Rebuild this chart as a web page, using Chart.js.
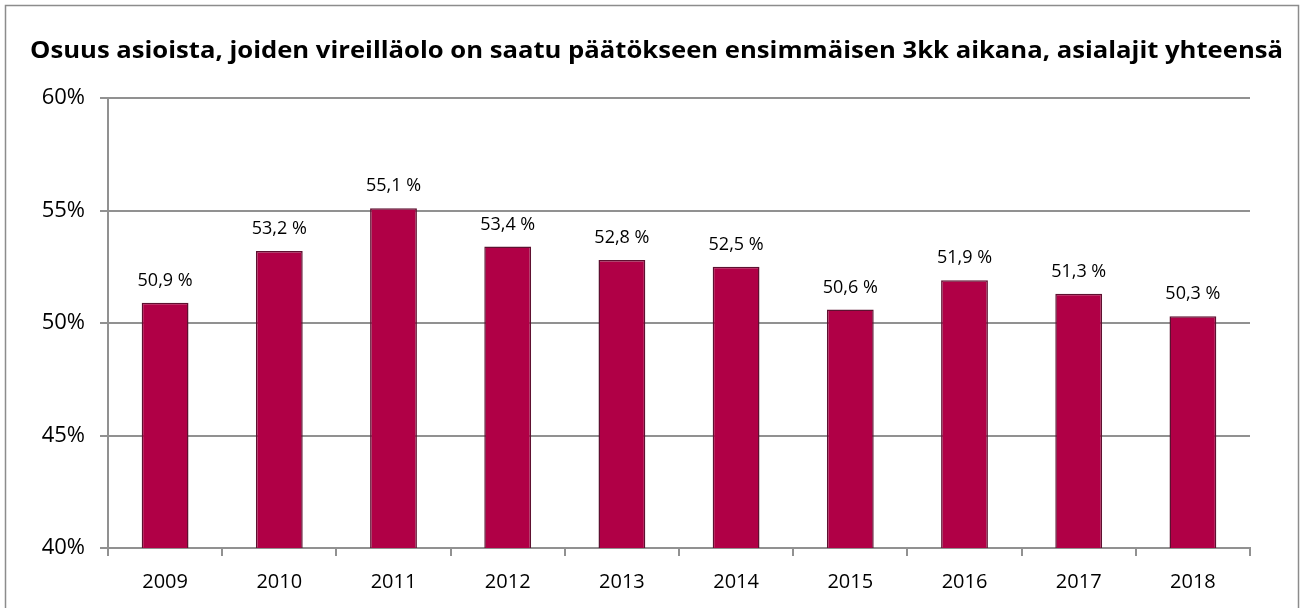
<!DOCTYPE html>
<html lang="fi">
<head>
<meta charset="utf-8">
<script src="https://cdn.jsdelivr.net/npm/chart.js@4/dist/chart.umd.min.js"></script>
<style>
  html, body { margin: 0; padding: 0; background: #ffffff; }
  #wrap { width: 1303px; height: 608px; }
  canvas { display: block; }
</style>
</head>
<body>
<div id="wrap"><canvas id="chart" width="1303" height="608"></canvas></div>
<script>
// Vuodet ja osuudet (%)
const years = ['2009', '2010', '2011', '2012', '2013', '2014', '2015', '2016', '2017', '2018'];
const shares = [50.9, 53.2, 55.1, 53.4, 52.8, 52.5, 50.6, 51.9, 51.3, 50.3];
const yTicks = [40, 45, 50, 55, 60];

const chartTitle = 'Osuus asioista, joiden vireilläolo on saatu päätökseen ensimmäisen 3kk aikana, asialajit yhteensä';
const FONT = "'Open Sans', 'Noto Sans', sans-serif";
const GRID = '#919191';
const TITLE_WIDTH = 1253;

// Kehys ja otsikko
const framePlugin = {
  id: 'frame',
  beforeDraw(chart) {
    const ctx = chart.ctx;
    ctx.save();
    ctx.fillStyle = '#ffffff';
    ctx.fillRect(0, 0, chart.width, chart.height);
    ctx.strokeStyle = '#8c8c8c';
    ctx.lineWidth = 1.5;
    ctx.strokeRect(5.5, 5.5, chart.width - 10, chart.height + 20);
    ctx.fillStyle = '#000000';
    ctx.font = "bold 23px " + FONT;
    ctx.textAlign = 'center';
    ctx.textBaseline = 'middle';
    // otsikko venytetään vaakasuunnassa koko kuvan levyiseksi
    const w = ctx.measureText(chartTitle).width;
    const sx = TITLE_WIDTH / w;
    ctx.translate(chart.width / 2 + 5, 51);
    ctx.scale(sx, 1);
    ctx.fillText(chartTitle, 0, 0);
    ctx.restore();
  }
};

// Arvotunnisteet pylväiden yläpuolelle
const valueLabels = {
  id: 'valueLabels',
  afterDatasetsDraw(chart) {
    const ctx = chart.ctx;
    const meta = chart.getDatasetMeta(0);
    ctx.save();
    ctx.fillStyle = '#000000';
    ctx.font = "18px " + FONT;
    ctx.textAlign = 'center';
    ctx.textBaseline = 'middle';
    meta.data.forEach((bar, i) => {
      const txt = shares[i].toFixed(1).replace('.', ',') + ' %';
      ctx.fillText(txt, bar.x, bar.y - 22);
    });
    ctx.restore();
  }
};

new Chart(document.getElementById('chart'), {
  type: 'bar',
  data: {
    labels: years,
    datasets: [{
      data: shares,
      backgroundColor: '#b00046',
      borderColor: '#5e1030',
      borderWidth: 1.5,
      categoryPercentage: 1,
      barPercentage: 0.41
    }]
  },
  options: {
    responsive: false,
    devicePixelRatio: 1,
    animation: false,
    layout: { padding: { left: 0, right: 53, top: 98, bottom: 0 } },
    plugins: {
      legend: { display: false },
      title: { display: false },
      tooltip: { enabled: false }
    },
    scales: {
      x: {
        grid: {
          display: true,
          drawOnChartArea: false,
          drawTicks: true,
          tickLength: 8,
          lineWidth: 2,
          color: GRID,
          offset: true
        },
        border: { display: true, color: GRID, width: 2 },
        ticks: {
          color: '#000000',
          font: { family: FONT, size: 20 },
          padding: 14,
          maxRotation: 0
        },
        afterFit(scale) { scale.height = 60; }
      },
      y: {
        min: 40,
        max: 60,
        afterBuildTicks(scale) { scale.ticks = yTicks.map(v => ({ value: v })); },
        grid: {
          color: GRID,
          lineWidth: 2,
          drawTicks: true,
          tickLength: 8
        },
        border: { display: true, color: GRID, width: 2 },
        ticks: {
          color: '#000000',
          font: { family: FONT, size: 22 },
          padding: 15,
          callback: v => v + '%'
        },
        afterFit(scale) { scale.width = 108; }
      }
    }
  },
  plugins: [framePlugin, valueLabels]
});
</script>
</body>
</html>
